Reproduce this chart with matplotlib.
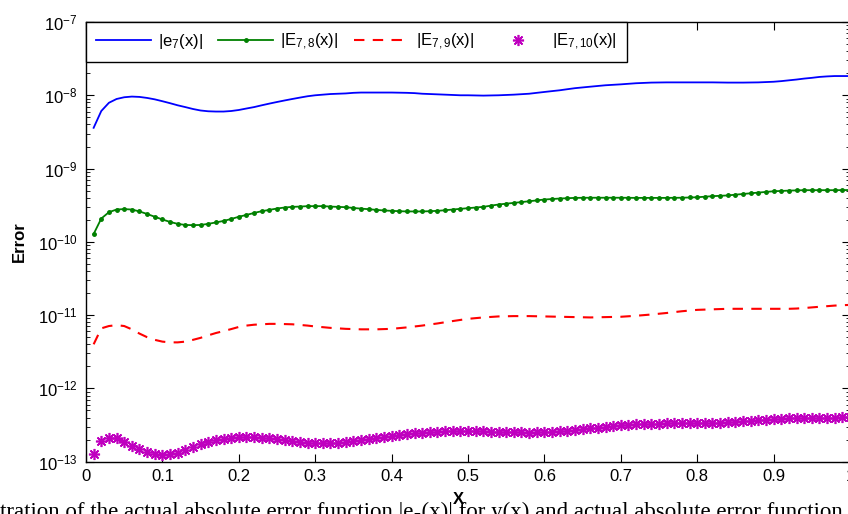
import matplotlib
matplotlib.use('Agg')
import matplotlib.pyplot as plt
import numpy as np

plt.rcParams['font.family'] = ['Liberation Sans', 'DejaVu Sans']
plt.rcParams['mathtext.fontset'] = 'custom'
plt.rcParams['mathtext.rm'] = 'Liberation Sans'
plt.rcParams['mathtext.it'] = 'Liberation Sans:italic'
plt.rcParams['mathtext.default'] = 'regular'

# x grid 0.01 ... 1.00
x = np.round(np.arange(1, 101) / 100.0, 2)

# |e_7(x)|  (units of 1e-9)
e7 = np.array([3.6, 6.1, 7.9, 8.9, 9.4, 9.6, 9.5, 9.2, 8.8, 8.3,
               7.8, 7.3, 6.9, 6.5, 6.2, 6.05, 6.0, 6.0, 6.1, 6.3,
               6.6, 6.9, 7.3, 7.7, 8.1, 8.5, 8.9, 9.3, 9.7, 10.0,
               10.2, 10.4, 10.5, 10.6, 10.8, 10.9, 10.9, 10.9, 10.9, 10.9,
               10.85, 10.8, 10.7, 10.5, 10.4, 10.3, 10.2, 10.1, 10.0, 10.0,
               9.95, 9.9, 9.95, 10.0, 10.1, 10.2, 10.35, 10.5, 10.8, 11.1,
               11.4, 11.7, 12.1, 12.5, 12.8, 13.1, 13.4, 13.7, 13.9, 14.1,
               14.35, 14.6, 14.75, 14.9, 14.95, 15.0, 15.0, 15.0, 15.0, 15.0,
               15.0, 15.0, 14.95, 14.9, 14.9, 14.9, 14.95, 15.0, 15.15, 15.3,
               15.6, 16.0, 16.4, 16.9, 17.3, 17.8, 18.1, 18.3, 18.3, 18.3]) * 1e-9

# |E_{7,8}(x)|  (units of 1e-10)
E78 = np.array([1.28, 2.08, 2.54, 2.76, 2.80, 2.76, 2.60, 2.40, 2.20, 2.02,
                1.87, 1.76, 1.70, 1.69, 1.70, 1.76, 1.84, 1.93, 2.05, 2.20,
                2.33, 2.48, 2.62, 2.73, 2.85, 2.94, 3.00, 3.03, 3.07, 3.07,
                3.07, 3.03, 3.00, 2.97, 2.90, 2.84, 2.79, 2.73, 2.68, 2.65,
                2.62, 2.60, 2.60, 2.60, 2.62, 2.65, 2.70, 2.76, 2.82, 2.88,
                2.94, 3.00, 3.12, 3.23, 3.32, 3.40, 3.49, 3.58, 3.68, 3.78,
                3.84, 3.90, 3.94, 3.98, 3.99, 4.00, 4.00, 4.00, 4.00, 4.00,
                3.99, 3.98, 3.98, 3.98, 3.98, 3.98, 3.99, 4.00, 4.03, 4.06,
                4.13, 4.20, 4.25, 4.30, 4.40, 4.50, 4.60, 4.70, 4.80, 4.90,
                4.95, 5.00, 5.04, 5.07, 5.07, 5.07, 5.07, 5.07, 5.08, 5.10]) * 1e-10

# |E_{7,9}(x)|  (units of 1e-12)
E79 = np.array([4.0, 6.6, 7.1, 7.3, 7.1, 6.4, 5.6, 5.0, 4.6, 4.35,
                4.25, 4.25, 4.35, 4.6, 4.9, 5.3, 5.7, 6.05, 6.45, 6.9,
                7.2, 7.4, 7.5, 7.6, 7.6, 7.55, 7.5, 7.35, 7.2, 7.0,
                6.85, 6.7, 6.6, 6.5, 6.45, 6.4, 6.4, 6.4, 6.45, 6.5,
                6.65, 6.8, 7.0, 7.2, 7.45, 7.7, 8.0, 8.3, 8.6, 8.9,
                9.1, 9.3, 9.45, 9.6, 9.65, 9.7, 9.7, 9.7, 9.65, 9.6,
                9.55, 9.5, 9.45, 9.4, 9.35, 9.3, 9.35, 9.4, 9.45, 9.5,
                9.65, 9.8, 10.0, 10.2, 10.45, 10.7, 11.0, 11.3, 11.55, 11.8,
                11.9, 12.0, 12.1, 12.2, 12.2, 12.2, 12.2, 12.2, 12.2, 12.2,
                12.2, 12.2, 12.3, 12.5, 12.75, 13.0, 13.25, 13.5, 13.65, 13.8]) * 1e-12

# |E_{7,10}(x)|  (units of 1e-13)
E710 = np.array([1.26, 1.93, 2.12, 2.08, 1.88, 1.66, 1.47, 1.34, 1.27, 1.23,
                 1.26, 1.33, 1.46, 1.58, 1.72, 1.86, 1.96, 2.04, 2.10, 2.15,
                 2.15, 2.15, 2.12, 2.08, 2.02, 1.96, 1.90, 1.86, 1.82, 1.80,
                 1.80, 1.80, 1.82, 1.86, 1.91, 1.97, 2.03, 2.10, 2.16, 2.22,
                 2.30, 2.38, 2.44, 2.50, 2.53, 2.56, 2.61, 2.65, 2.65, 2.63,
                 2.61, 2.59, 2.57, 2.56, 2.53, 2.52, 2.51, 2.50, 2.51, 2.52,
                 2.55, 2.60, 2.65, 2.70, 2.78, 2.85, 2.92, 3.00, 3.07, 3.13,
                 3.18, 3.23, 3.27, 3.30, 3.32, 3.33, 3.33, 3.33, 3.33, 3.33,
                 3.35, 3.37, 3.40, 3.44, 3.50, 3.55, 3.62, 3.70, 3.76, 3.82,
                 3.86, 3.90, 3.93, 3.95, 3.97, 3.98, 3.99, 4.00, 4.02, 4.05]) * 1e-13

xticks = [0, 0.1, 0.2, 0.3, 0.4, 0.5, 0.6, 0.7, 0.8, 0.9, 1]
xticklabels = ['0', '0.1', '0.2', '0.3', '0.4', '0.5', '0.6', '0.7', '0.8', '0.9', '1']

fig = plt.figure(figsize=(8.48, 5.14), dpi=100)
ax = fig.add_axes([86 / 848, 52.3 / 514, 764 / 848, 439.7 / 514])

ax.semilogy(x, e7, color='b', linewidth=1.3, label=r'$|e_7(x)|$')
ax.semilogy(x, E78, color=(0, 0.5, 0), linewidth=1.3, marker='.', markersize=5,
            label=r'$|E_{7,8}(x)|$')
ax.semilogy(x, E79, color='r', linewidth=1.5, linestyle=(0, (5, 4)),
            label=r'$|E_{7,9}(x)|$')
ax.semilogy(x, E710, linestyle='none', marker=(8, 2, 0), markersize=8,
            color=(0.75, 0, 0.75), markeredgewidth=1.2, label=r'$|E_{7,10}(x)|$')

ax.set_xlim(0, 1)
ax.set_ylim(1e-13, 1e-7)
ax.set_xticks(xticks)
ax.set_xticklabels(xticklabels)
ax.tick_params(which='both', direction='in', top=True, right=True, labelsize=12)
ax.tick_params(axis='x', pad=5)
ax.tick_params(axis='y', pad=6)
ax.tick_params(which='major', length=6, width=0.8)
ax.tick_params(which='minor', length=3, width=0.6)
for s in ax.spines.values():
    s.set_linewidth(1.0)

leg = ax.legend(loc='upper left', ncol=4, borderaxespad=0, fancybox=False,
                edgecolor='k', framealpha=1, fontsize=12, handlelength=3.3,
                handletextpad=0.4, columnspacing=0.95, borderpad=0.6)
leg.get_frame().set_linewidth(1.0)

fig.text(19 / 848, 1 - 242 / 514, 'Error', rotation=90, fontsize=12,
         fontweight='bold', ha='center', va='center')
fig.text(458 / 848, 1 - 500 / 514, 'X', fontsize=12, fontweight='bold',
         ha='center', va='center')

fig.text(0.0, 1 - 502 / 514,
         'tration of the actual absolute error function |e\u2087(x)| for y(x) and actual absolute error function',
         family=['Liberation Serif', 'DejaVu Serif'], fontsize=16.5, ha='left', va='top')

fig.savefig('out.png', dpi=100)
